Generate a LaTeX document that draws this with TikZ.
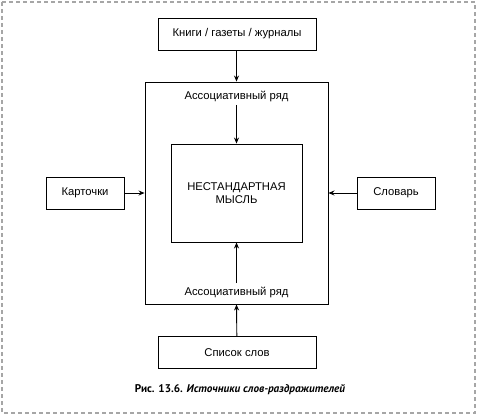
\documentclass[tikz,border=0pt]{standalone}
\usepackage{fontspec}
\setmainfont{Liberation Sans}
\newfontfamily\capfont{PT Sans}
\usetikzlibrary{arrows.meta,positioning}

\tikzset{
  srcbox/.style={draw, line width=0.9bp, minimum width=158bp, minimum height=32bp, inner sep=0pt},
  sidebox/.style={draw, line width=0.9bp, minimum width=78bp, minimum height=32bp, inner sep=0pt},
  feed/.style={-{Stealth[length=6bp,width=5bp]}, line width=0.9bp},
}

\begin{document}
\begin{tikzpicture}[x=1bp, y=-1bp, font=\fontsize{11.3}{13.5}\selectfont]
  \useasboundingbox (0, 0) rectangle (478, 416);
  \draw [gray!70, line width=1.2bp, dash pattern=on 4bp off 3bp] (2, 2) rectangle (475, 413);

  % frame with the two rows and the idea in the middle
  \node [draw, line width=0.9bp, minimum width=183bp, minimum height=222bp] (frame) at (236.5, 193) {};
  \node [draw, line width=0.9bp, minimum width=131bp, minimum height=98bp, align=center] (idea) at (236.5, 193) {НЕСТАНДАРТНАЯ\\МЫСЛЬ};
  \node (rowtop) at (236.5, 96) {Ассоциативный ряд};
  \node (rowbot) at (236.5, 292) {Ассоциативный ряд};

  % sources
  \node [srcbox] (books) at (237, 34) {Книги / газеты / журналы};
  \node [srcbox] (words) at (237, 352.5) {Список слов};
  \node [sidebox] (cards) at (85, 193) {Карточки};
  \node [sidebox] (dict) at (396, 193) {Словарь};

  \draw [feed] (books) -- (frame.north |- books.south) -- (frame.north);
  \draw [feed] (rowtop) -- (idea);
  \draw [feed] (rowbot) -- (idea);
  \draw [feed] (words) -- (frame.south);
  \draw [feed] (cards) -- (frame.west |- cards.east);
  \draw [feed] (dict) -- (frame.east |- dict.west);

  \node [font=\capfont\bfseries\fontsize{11.2}{13}\selectfont] (caption) at (240, 390) {Рис. 13.6. \itshape Источники слов-раздражителей};
\end{tikzpicture}
\end{document}
